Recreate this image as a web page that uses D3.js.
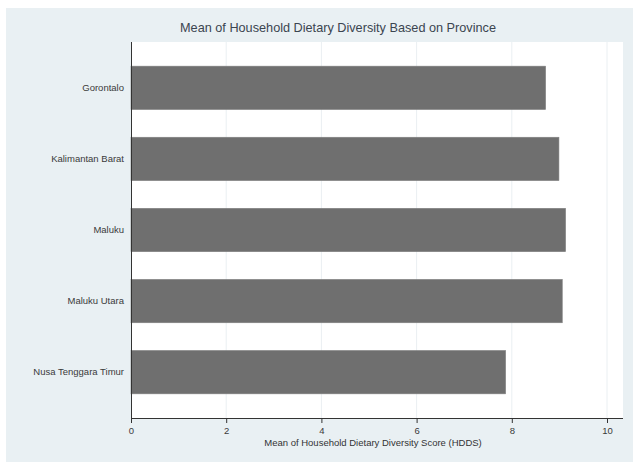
<!DOCTYPE html>
<html>
<head>
<meta charset="utf-8">
<script src="https://cdn.jsdelivr.net/npm/d3@7"></script>
<style>
html,body{margin:0;padding:0;background:#fff;}
svg{display:block;font-family:"Liberation Sans",Arial,Helvetica,sans-serif;}
</style>
</head>
<body>
<svg id="chart" width="633" height="464"></svg>
<script>
const provinces = ["Gorontalo", "Kalimantan Barat", "Maluku", "Maluku Utara", "Nusa Tenggara Timur"];
const meanHDDS = [8.71, 8.99, 9.13, 9.06, 7.87];
const xTicks = [0, 2, 4, 6, 8, 10];
const titleText = "Mean of Household Dietary Diversity Based on Province";
const xTitle = "Mean of Household Dietary Diversity Score (HDDS)";

const svg = d3.select("#chart");
const W = 633, H = 464;
const plot = {left: 131, right: 623, top: 42, bottom: 418};

svg.append("rect").attr("x", 6).attr("y", 8).attr("width", W - 6).attr("height", 454)
  .attr("fill", "#e9f0f3");
svg.append("rect").attr("x", plot.left).attr("y", plot.top)
  .attr("width", plot.right - plot.left).attr("height", plot.bottom - plot.top)
  .attr("fill", "#ffffff");

const x = d3.scaleLinear().domain([0, 10]).range([131, 607]);
const y = d3.scaleBand().domain(provinces).range([plot.top, plot.bottom])
  .paddingInner(0.39).paddingOuter(0.34);

// gridlines
svg.append("g").selectAll("line").data(xTicks.filter(t => t > 0)).join("line")
  .attr("x1", d => x(d)).attr("x2", d => x(d))
  .attr("y1", plot.top).attr("y2", plot.bottom)
  .attr("stroke", "#eaeff2").attr("stroke-width", 1);

// bars
svg.append("g").selectAll("rect").data(provinces).join("rect")
  .attr("x", x(0)).attr("y", d => y(d))
  .attr("width", (d, i) => x(meanHDDS[i]) - x(0))
  .attr("height", y.bandwidth())
  .attr("fill", "#6f6f6f").attr("stroke", "#808080").attr("stroke-width", 0.6);

// x axis
const xAxis = svg.append("g").attr("transform", `translate(0,${plot.bottom})`)
  .call(d3.axisBottom(x).tickValues(xTicks).tickSize(5).tickPadding(4).tickFormat(d3.format("d")));
xAxis.select(".domain").attr("d", `M${plot.left},0.5H${plot.right}`).attr("stroke", "#333").attr("stroke-width", 1);
xAxis.selectAll(".tick line").attr("stroke", "#333");
xAxis.selectAll(".tick text").attr("fill", "#3a3a3a").attr("font-size", 9.5)
  .attr("font-family", "Liberation Sans, Arial, sans-serif");

// y axis
const yAxis = svg.append("g").attr("transform", `translate(${plot.left},0)`)
  .call(d3.axisLeft(y).tickSize(0).tickPadding(7));
yAxis.select(".domain").attr("d", `M0.5,${plot.top}V${plot.bottom}`).attr("stroke", "#333").attr("stroke-width", 1);
yAxis.selectAll(".tick text").attr("fill", "#3a3a3a").attr("font-size", 9.5)
  .attr("font-family", "Liberation Sans, Arial, sans-serif");

// titles
svg.append("text").attr("x", 338).attr("y", 32).attr("text-anchor", "middle")
  .attr("font-size", 12.7).attr("fill", "#3b4550").text(titleText);
svg.append("text").attr("x", 373).attr("y", 446).attr("text-anchor", "middle")
  .attr("font-size", 9.5).attr("fill", "#333").text(xTitle);
</script>
</body>
</html>
